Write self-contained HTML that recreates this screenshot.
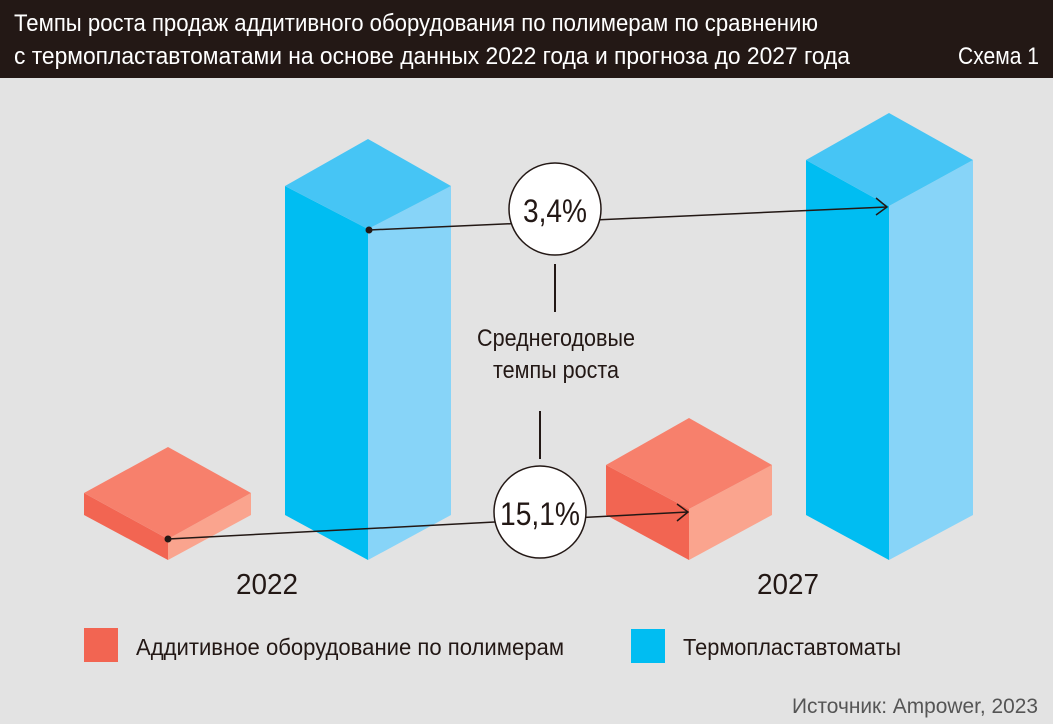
<!DOCTYPE html>
<html><head><meta charset="utf-8"><style>
body{margin:0;background:#e3e3e3}
svg{display:block}
text{font-family:"Liberation Sans Narrow","Liberation Sans",sans-serif}
</style></head><body>
<svg width="1053" height="724" viewBox="0 0 1053 724" xmlns="http://www.w3.org/2000/svg">
<rect width="1053" height="724" fill="#e3e3e3"/>
<rect width="1053" height="78" fill="#231815"/>
<text x="14" y="31" fill="#fff" font-size="24" textLength="804" lengthAdjust="spacingAndGlyphs">Темпы роста продаж аддитивного оборудования по полимерам по сравнению</text>
<text x="14" y="64" fill="#fff" font-size="24" textLength="836" lengthAdjust="spacingAndGlyphs">с термопластавтоматами на основе данных 2022 года и прогноза до 2027 года</text>
<text x="958" y="64" fill="#fff" font-size="24" textLength="81" lengthAdjust="spacingAndGlyphs">Схема 1</text>

<!-- red 2022 -->
<polygon points="84,493 168,539 168,560 84,515" fill="#f26552"/>
<polygon points="168,539 251,493 251,515 168,560" fill="#faa48e"/>
<polygon points="84,493 168,447 251,493 168,539" fill="#f7806c"/>
<!-- blue 2022 -->
<polygon points="285,186 368,229 368,560 285,515" fill="#00bdf2"/>
<polygon points="368,229 451,186 451,515 368,560" fill="#87d4f8"/>
<polygon points="285,186 368,139 451,186 368,229" fill="#46c5f5"/>
<!-- red 2027 -->
<polygon points="606,465 689,509 689,560 606,515" fill="#f26552"/>
<polygon points="689,509 772,465 772,515 689,560" fill="#faa48e"/>
<polygon points="606,465 689,418 772,465 689,509" fill="#f7806c"/>
<!-- blue 2027 -->
<polygon points="806,160 889,206 889,560 806,515" fill="#00bdf2"/>
<polygon points="889,206 973,160 973,515 889,560" fill="#87d4f8"/>
<polygon points="806,160 889,113 973,160 889,206" fill="#46c5f5"/>

<!-- arrows -->
<g stroke="#231815" stroke-width="1.5" fill="none">
<line x1="369" y1="230" x2="887" y2="207"/>
<polyline points="876,198 887,207 876,215"/>
<line x1="168" y1="539" x2="688" y2="512"/>
<polyline points="677,504 688,512 677,521"/>
<line x1="555" y1="264" x2="555" y2="312" stroke-width="2"/>
<line x1="540" y1="411" x2="540" y2="459" stroke-width="2"/>
</g>
<circle cx="369" cy="230" r="3.5" fill="#231815"/>
<circle cx="168" cy="539" r="3.5" fill="#231815"/>
<circle cx="555" cy="209" r="46" fill="#fff" stroke="#231815" stroke-width="1.5"/>
<circle cx="540" cy="512" r="46" fill="#fff" stroke="#231815" stroke-width="1.5"/>
<text x="555" y="222" font-size="32" fill="#231815" text-anchor="middle" textLength="64" lengthAdjust="spacingAndGlyphs">3,4%</text>
<text x="540" y="525" font-size="32" fill="#231815" text-anchor="middle" textLength="80" lengthAdjust="spacingAndGlyphs">15,1%</text>
<text x="556" y="346" font-size="24" fill="#231815" text-anchor="middle" textLength="158" lengthAdjust="spacingAndGlyphs">Среднегодовые</text>
<text x="556" y="378" font-size="24" fill="#231815" text-anchor="middle" textLength="126" lengthAdjust="spacingAndGlyphs">темпы роста</text>

<text x="267" y="594" font-size="29" fill="#231815" text-anchor="middle" textLength="62" lengthAdjust="spacingAndGlyphs">2022</text>
<text x="788" y="594" font-size="29" fill="#231815" text-anchor="middle" textLength="62" lengthAdjust="spacingAndGlyphs">2027</text>

<rect x="84" y="628" width="34" height="34" fill="#f26552"/>
<text x="136" y="655" font-size="23" fill="#231815" textLength="428" lengthAdjust="spacingAndGlyphs">Аддитивное оборудование по полимерам</text>
<rect x="631" y="629" width="34" height="34" fill="#00bdf2"/>
<text x="683" y="655" font-size="23" fill="#231815" textLength="218" lengthAdjust="spacingAndGlyphs">Термопластавтоматы</text>

<text x="1038" y="713" font-size="21" fill="#555" text-anchor="end" textLength="246" lengthAdjust="spacingAndGlyphs">Источник: Ampower, 2023</text>
</svg>
</body></html>
